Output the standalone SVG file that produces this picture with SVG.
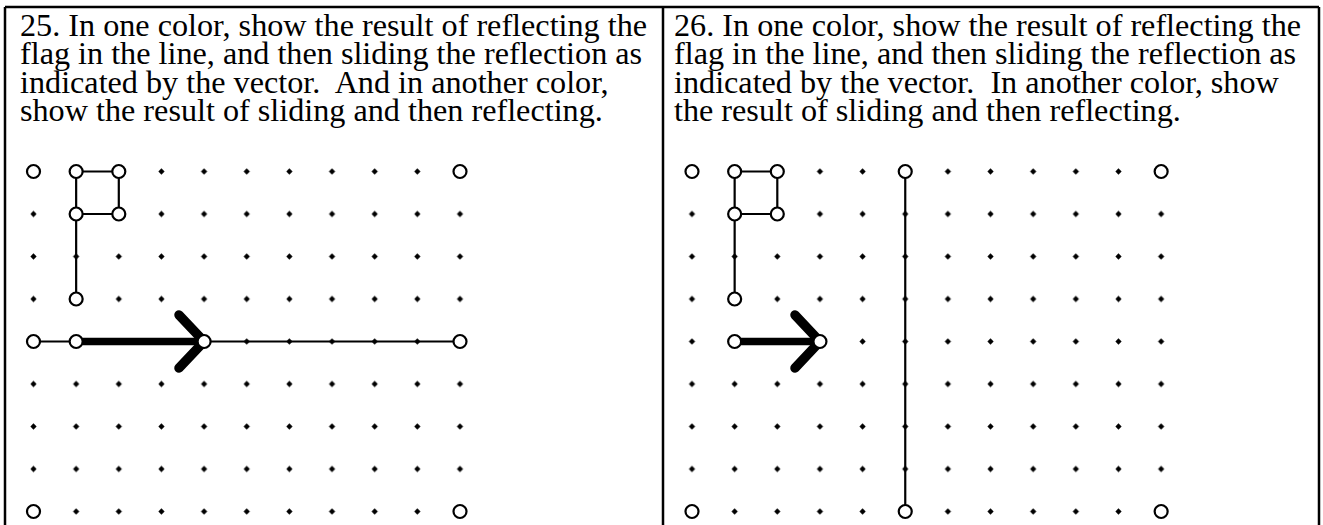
<svg xmlns="http://www.w3.org/2000/svg" width="1323" height="525" viewBox="0 0 1323 525">
<style>
.t{font-family:"Liberation Serif","Times New Roman",serif;font-size:32.2px;fill:#000;white-space:pre}
.b{stroke:#000;stroke-width:2.5;fill:none}
.ln{stroke:#000;stroke-width:2.2;fill:none}
.c{fill:#fff;stroke:#000;stroke-width:2.2}
.shaft{stroke:#000;stroke-width:7.5;fill:none;stroke-linecap:round}
.chev{stroke:#000;stroke-width:9.5;fill:none;stroke-linecap:round;stroke-linejoin:round}
</style>
<defs>
<pattern id="dotsL" patternUnits="userSpaceOnUse" x="12.175" y="150.25" width="42.65" height="42.5">
<path d="M21.325,18.15L24.425,21.25L21.325,24.35L18.225,21.25Z" fill="#000"/>
</pattern>
<pattern id="dotsR" patternUnits="userSpaceOnUse" x="670.675" y="150.25" width="42.65" height="42.5">
<path d="M21.325,18.15L24.425,21.25L21.325,24.35L18.225,21.25Z" fill="#000"/>
</pattern>
</defs>
<g id="frame">
<line class="b" x1="5" y1="7" x2="1319" y2="7"/>
<line class="b" x1="5" y1="7" x2="5" y2="525"/>
<line class="b" x1="663" y1="7" x2="663" y2="525"/>
<line class="b" x1="1319" y1="7" x2="1319" y2="525"/>
</g>
<g id="text25">
<text class="t" x="20" y="36">25. In one color, show the result of reflecting the</text>
<text class="t" x="20" y="64">flag in the line, and then sliding the reflection as</text>
<text class="t" x="20" y="92.5">indicated by the vector.  And in another color,</text>
<text class="t" x="20" y="120.5">show the result of sliding and then reflecting.</text>
</g>
<g id="text26">
<text class="t" x="674" y="36">26. In one color, show the result of reflecting the</text>
<text class="t" x="674" y="64">flag in the line, and then sliding the reflection as</text>
<text class="t" x="674" y="92.5">indicated by the vector.  In another color, show</text>
<text class="t" x="674" y="120.5">the result of sliding and then reflecting.</text>
</g>
<g id="panel25">
<rect id="grid25" x="12.175" y="150.25" width="469.15" height="382.5" fill="url(#dotsL)"/>
<g id="lines25">
<path class="ln" d="M76.15,299V171.5H118.8V214H76.15"/>
<line class="ln" x1="33.5" y1="341.5" x2="460" y2="341.5"/>
<line class="shaft" x1="76.15" y1="341.5" x2="204.1" y2="341.5"/>
<path class="chev" d="M179,315L204.1,341.5L179,368"/>
</g>
<g id="points25">
<circle class="c" cx="33.5" cy="171.5" r="6.5"/>
<circle class="c" cx="76.15" cy="171.5" r="6.5"/>
<circle class="c" cx="118.8" cy="171.5" r="6.5"/>
<circle class="c" cx="76.15" cy="214" r="6.5"/>
<circle class="c" cx="118.8" cy="214" r="6.5"/>
<circle class="c" cx="76.15" cy="299" r="6.5"/>
<circle class="c" cx="460" cy="171.5" r="6.5"/>
<circle class="c" cx="33.5" cy="341.5" r="6.5"/>
<circle class="c" cx="76.15" cy="341.5" r="6.5"/>
<circle class="c" cx="204.1" cy="341.5" r="6.5"/>
<circle class="c" cx="460" cy="341.5" r="6.5"/>
<circle class="c" cx="33.5" cy="511.5" r="6.5"/>
<circle class="c" cx="460" cy="511.5" r="6.5"/>
</g>
</g>
<g id="panel26">
<rect id="grid26" x="670.675" y="150.25" width="511.8" height="382.5" fill="url(#dotsR)"/>
<g id="lines26">
<path class="ln" d="M734.65,299V171.5H777.3V214H734.65"/>
<line class="ln" x1="905.25" y1="171.5" x2="905.25" y2="511.5"/>
<line class="shaft" x1="734.65" y1="341.5" x2="819.95" y2="341.5"/>
<path class="chev" d="M795,315L819.95,341.5L795,368"/>
</g>
<g id="points26">
<circle class="c" cx="692" cy="171.5" r="6.5"/>
<circle class="c" cx="734.65" cy="171.5" r="6.5"/>
<circle class="c" cx="777.3" cy="171.5" r="6.5"/>
<circle class="c" cx="734.65" cy="214" r="6.5"/>
<circle class="c" cx="777.3" cy="214" r="6.5"/>
<circle class="c" cx="734.65" cy="299" r="6.5"/>
<circle class="c" cx="905.25" cy="171.5" r="6.5"/>
<circle class="c" cx="1161.15" cy="171.5" r="6.5"/>
<circle class="c" cx="734.65" cy="341.5" r="6.5"/>
<circle class="c" cx="819.95" cy="341.5" r="6.5"/>
<circle class="c" cx="692" cy="511.5" r="6.5"/>
<circle class="c" cx="905.25" cy="511.5" r="6.5"/>
<circle class="c" cx="1161.15" cy="511.5" r="6.5"/>
</g>
</g>
</svg>
